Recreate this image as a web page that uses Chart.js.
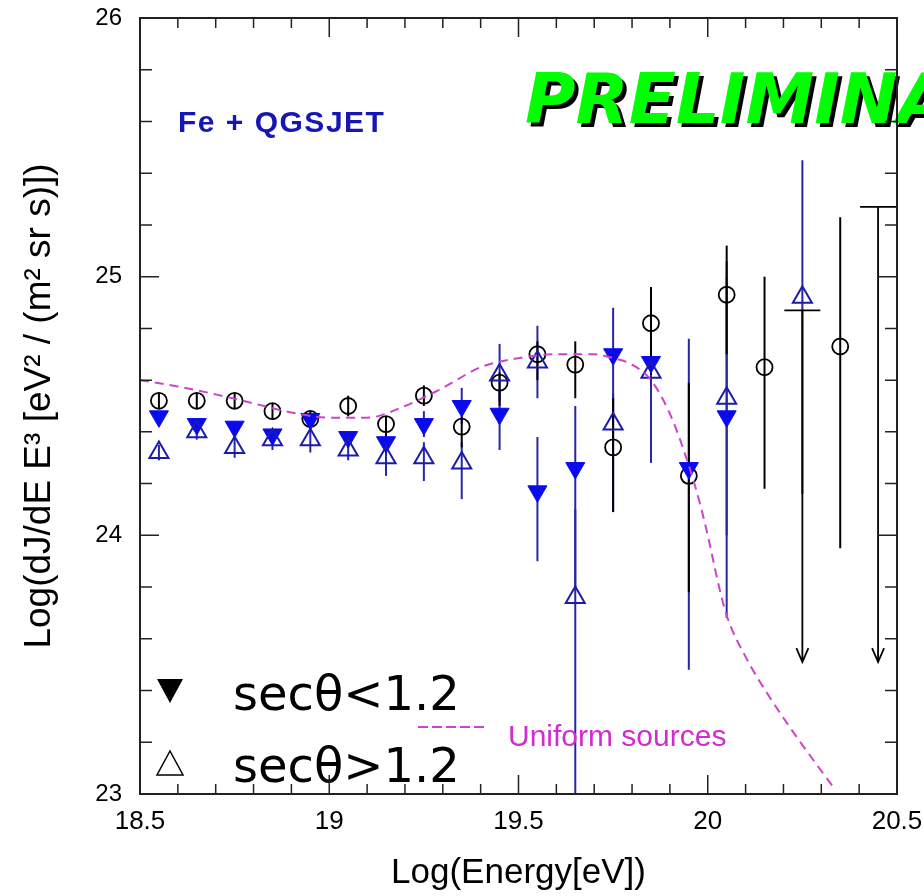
<!DOCTYPE html>
<html>
<head>
<meta charset="utf-8">
<script src="https://cdn.jsdelivr.net/npm/chart.js@4.4.1/dist/chart.umd.min.js"></script>
<style>
  html, body { margin: 0; padding: 0; background: #fff; }
  canvas { display: block; }
</style>
</head>
<body>
<canvas id="chart" width="924" height="896"></canvas>
<script>
// energy bins, log10(E/eV)
const energy = [18.55, 18.65, 18.75, 18.85, 18.95, 19.05, 19.15, 19.25, 19.35, 19.45,
                19.55, 19.65, 19.75, 19.85, 19.95, 20.05, 20.15, 20.25, 20.35, 20.45];

// all events (open circles)
const allFlux = [24.52, 24.52, 24.52, 24.48, 24.45, 24.50, 24.43, 24.54, 24.42, 24.59,
                 24.70, 24.66, 24.34, 24.82, 24.23, 24.93, 24.65, null, 24.73, null];
const allHi   = [24.55, 24.55, 24.55, 24.51, 24.48, 24.54, 24.46, 24.58, 24.46, 24.63,
                 24.75, 24.75, 24.53, 24.96, 24.59, 25.12, 25.00, null, 25.23, null];
const allLo   = [24.49, 24.49, 24.49, 24.45, 24.42, 24.46, 24.37, 24.50, 24.34, 24.50,
                 24.60, 24.53, 24.09, 24.62, 23.78, 24.70, 24.18, null, 23.95, null];
// upper limits (bar + down arrow)
const allLimit = [null, null, null, null, null, null, null, null, null, null,
                  null, null, null, null, null, null, null, 24.87, null, 25.27];
const limitArrowTo = 23.51;

// sec(theta) < 1.2 (filled triangles)
const lowFlux = [24.46, 24.43, 24.42, 24.39, 24.45, 24.38, 24.36, 24.43, 24.50, 24.47,
                 24.17, 24.26, 24.70, 24.67, 24.26, 24.46, null, null, null, null];
const lowHi   = [24.48, 24.45, 24.44, 24.41, 24.47, 24.40, 24.40, 24.48, 24.57, 24.56,
                 24.38, 24.50, 24.88, 24.93, 24.76, 25.06, null, null, null, null];
const lowLo   = [24.44, 24.41, 24.40, 24.37, 24.43, 24.36, 24.32, 24.38, 24.43, 24.33,
                 23.90, 23.80, 24.45, 24.35, 23.48, 23.68, null, null, null, null];

// sec(theta) > 1.2 (open triangles)
const highFlux = [24.32, 24.40, 24.34, 24.37, 24.37, 24.33, 24.30, 24.30, 24.28, 24.62,
                  24.67, 23.76, 24.43, 24.63, null, 24.53, null, 24.92, null, null];
const highHi   = [24.35, 24.43, 24.38, 24.41, 24.42, 24.37, 24.35, 24.36, 24.36, 24.74,
                   24.81, 24.10, 24.55, 24.90, null, 25.00, null, 25.45, null, null];
const highLo   = [24.29, 24.37, 24.30, 24.33, 24.32, 24.29, 24.23, 24.21, 24.14, 24.52,
                   24.53, 22.80, 24.09, 24.28, null, 24.00, null, 24.16, null, null];

// "Uniform sources" model curve
const curveX = [18.5, 18.6, 18.7, 18.8, 18.9, 19.0, 19.1, 19.2, 19.3, 19.4, 19.5, 19.6, 19.7,
                19.75, 19.8, 19.85, 19.9, 19.95, 19.98, 20.0, 20.03, 20.05, 20.1, 20.17, 20.24, 20.33];
const curveY = [24.60, 24.575, 24.545, 24.51, 24.475, 24.455, 24.455, 24.50, 24.57, 24.65, 24.685, 24.70, 24.70,
                24.685, 24.66, 24.60, 24.47, 24.27, 24.12, 24.00, 23.80, 23.69, 23.53, 23.36, 23.21, 23.03];

const xTicks = [18.5, 19, 19.5, 20, 20.5];
const yTicks = [23, 24, 25, 26];

const points = (ys) => energy.map((e, i) => ys[i] == null ? null : { x: e, y: ys[i] }).filter(p => p);

const errorBars = {
  id: 'errorBars',
  beforeDatasetsDraw(chart) {
    const { ctx, chartArea, scales: { x, y } } = chart;
    ctx.save();
    ctx.beginPath();
    ctx.rect(chartArea.left, chartArea.top, chartArea.width, chartArea.height);
    ctx.clip();
    const bars = (hi, lo, color, width) => {
      ctx.strokeStyle = color;
      ctx.lineWidth = width;
      energy.forEach((e, i) => {
        if (hi[i] == null) return;
        const px = x.getPixelForValue(e);
        ctx.beginPath();
        ctx.moveTo(px, y.getPixelForValue(hi[i]));
        ctx.lineTo(px, y.getPixelForValue(lo[i]));
        ctx.stroke();
      });
    };
    bars(highHi, highLo, '#2626a6', 2);
    bars(lowHi, lowLo, '#2626a6', 2);
    bars(allHi, allLo, '#000', 2);

    ctx.strokeStyle = '#000';
    ctx.lineWidth = 1.8;
    energy.forEach((e, i) => {
      if (allLimit[i] == null) return;
      const px = x.getPixelForValue(e);
      const top = y.getPixelForValue(allLimit[i]);
      const tip = y.getPixelForValue(limitArrowTo);
      ctx.beginPath();
      ctx.moveTo(px - 18, top);
      ctx.lineTo(px + 18, top);
      ctx.moveTo(px, top);
      ctx.lineTo(px, tip);
      ctx.moveTo(px - 6, tip - 14);
      ctx.lineTo(px, tip);
      ctx.lineTo(px + 6, tip - 14);
      ctx.stroke();
    });
    ctx.restore();
  }
};

const decor = {
  id: 'decor',
  afterDatasetsDraw(chart) {
    const { ctx } = chart;
    ctx.save();
    ctx.textAlign = 'left';
    ctx.textBaseline = 'alphabetic';

    ctx.fillStyle = '#1616b4';
    ctx.font = 'bold 30px "Liberation Sans", Arial, sans-serif';
    ctx.letterSpacing = '1.5px';
    ctx.fillText('Fe + QGSJET', 178, 132);
    ctx.letterSpacing = '0px';

    ctx.font = 'italic bold 69px "DejaVu Sans", sans-serif';
    ctx.fillStyle = '#000';
    ctx.fillText('PRELIMINARY', 529, 127);
    ctx.fillStyle = '#00ff00';
    ctx.fillText('PRELIMINARY', 525, 123);

    // legend
    ctx.fillStyle = '#000';
    ctx.beginPath();
    ctx.moveTo(157, 679); ctx.lineTo(183, 679); ctx.lineTo(170, 703); ctx.closePath();
    ctx.fill();
    ctx.strokeStyle = '#000';
    ctx.lineWidth = 1.5;
    ctx.beginPath();
    ctx.moveTo(170, 751); ctx.lineTo(183, 775); ctx.lineTo(157, 775); ctx.closePath();
    ctx.stroke();
    ctx.font = '48px "DejaVu Sans", sans-serif';
    ctx.fillText('secθ<1.2', 233, 710);
    ctx.fillText('secθ>1.2', 233, 782);

    ctx.strokeStyle = '#cc44cc';
    ctx.lineWidth = 2;
    ctx.setLineDash([10, 4]);
    ctx.beginPath();
    ctx.moveTo(418, 727); ctx.lineTo(486, 727);
    ctx.stroke();
    ctx.setLineDash([]);
    ctx.fillStyle = '#d02cd0';
    ctx.font = '30px "Liberation Sans", Arial, sans-serif';
    ctx.fillText('Uniform sources', 508, 746);
    ctx.restore();
  },
  afterDraw(chart) {
    const { ctx, chartArea: a, scales: { x, y } } = chart;
    ctx.save();
    ctx.strokeStyle = '#222';
    ctx.lineWidth = 2;
    ctx.strokeRect(a.left, a.top, a.right - a.left, a.bottom - a.top);
    ctx.lineWidth = 1.5;
    ctx.beginPath();
    for (let i = 0; i <= 20; i++) {
      const px = x.getPixelForValue(18.5 + i * 0.1);
      const len = i % 5 === 0 ? 19 : 10;
      ctx.moveTo(px, a.bottom); ctx.lineTo(px, a.bottom - len);
      ctx.moveTo(px, a.top); ctx.lineTo(px, a.top + len);
    }
    for (let i = 0; i <= 15; i++) {
      const py = y.getPixelForValue(23 + i * 0.2);
      const len = i % 5 === 0 ? 19 : 12;
      ctx.moveTo(a.left, py); ctx.lineTo(a.left + len, py);
      ctx.moveTo(a.right, py); ctx.lineTo(a.right - len, py);
    }
    ctx.stroke();
    ctx.restore();
  }
};

new Chart(document.getElementById('chart'), {
  type: 'scatter',
  data: {
    datasets: [
      {
        label: 'Uniform sources',
        data: curveX.map((v, i) => ({ x: v, y: curveY[i] })),
        showLine: true,
        borderColor: '#cc44cc',
        borderWidth: 2,
        borderDash: [9, 6],
        pointRadius: 0,
        cubicInterpolationMode: 'monotone',
        fill: false
      },
      {
        label: 'sec>1.2',
        data: points(highFlux),
        pointStyle: 'triangle',
        pointRadius: 11,
        borderColor: '#1c1ca8',
        borderWidth: 2,
        backgroundColor: 'rgba(0,0,0,0)'
      },
      {
        label: 'sec<1.2',
        data: points(lowFlux),
        pointStyle: 'triangle',
        rotation: 180,
        pointRadius: 11,
        borderColor: '#0a0aee',
        borderWidth: 1,
        backgroundColor: '#0a0aee'
      },
      {
        label: 'all',
        data: points(allFlux),
        pointStyle: 'circle',
        pointRadius: 8,
        borderColor: '#000',
        borderWidth: 1.8,
        backgroundColor: 'rgba(0,0,0,0)'
      }
    ]
  },
  options: {
    responsive: false,
    animation: false,
    layout: { padding: { top: 18, right: 27, left: 0, bottom: 0 } },
    plugins: { legend: { display: false }, tooltip: { enabled: false } },
    scales: {
      x: {
        type: 'linear',
        min: 18.5,
        max: 20.5,
        afterFit: (s) => { s.height = 102; s.paddingLeft = 0; s.paddingRight = 0; },
        afterBuildTicks: (s) => { s.ticks = xTicks.map(v => ({ value: v })); },
        ticks: {
          color: '#000',
          padding: 12,
          maxRotation: 0,
          callback: (v) => String(v),
          font: { family: '"Liberation Sans", Arial, sans-serif', size: 26 }
        },
        grid: { display: false, drawTicks: false },
        border: { display: false },
        title: {
          display: true,
          text: 'Log(Energy[eV])',
          color: '#000',
          padding: { top: 0, bottom: 2 },
          font: { family: '"Liberation Sans", Arial, sans-serif', size: 35 }
        }
      },
      y: {
        type: 'linear',
        min: 23,
        max: 26,
        afterFit: (s) => { s.width = 140; s.paddingTop = 0; s.paddingBottom = 0; },
        afterBuildTicks: (s) => { s.ticks = yTicks.map(v => ({ value: v })); },
        ticks: {
          color: '#000',
          padding: 18,
          callback: (v) => String(v),
          font: { family: '"Liberation Sans", Arial, sans-serif', size: 24 }
        },
        grid: { display: false, drawTicks: false },
        border: { display: false },
        title: {
          display: true,
          text: 'Log(dJ/dE E³ [eV² / (m² sr s)])',
          color: '#000',
          padding: { top: 18, bottom: 0 },
          font: { family: '"Liberation Sans", Arial, sans-serif', size: 37 }
        }
      }
    }
  },
  plugins: [errorBars, decor]
});
</script>
</body>
</html>
